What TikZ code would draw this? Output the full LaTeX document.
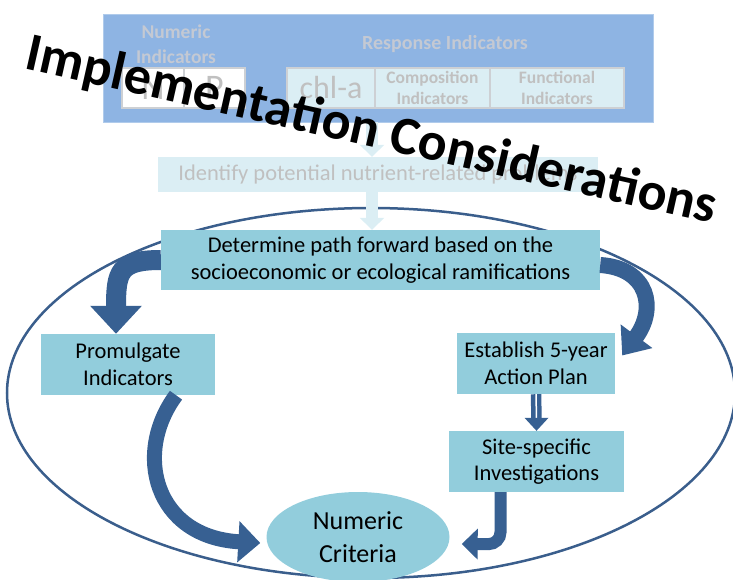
\documentclass[tikz,border=0pt]{standalone}
\usepackage{fontspec}
\setmainfont{Carlito}
\usetikzlibrary{arrows.meta,calc,shapes.geometric}
\definecolor{topblue}{RGB}{142,180,227}
\definecolor{fadefill}{RGB}{219,238,244}
\definecolor{fadeborder}{RGB}{205,208,212}
\definecolor{fadetext}{RGB}{192,192,192}
\definecolor{bluetext}{RGB}{196,201,211}
\definecolor{boxfill}{RGB}{146,205,220}
\definecolor{arrowblue}{RGB}{55,96,146}
\definecolor{ringblue}{RGB}{58,94,140}
\begin{document}
\begin{tikzpicture}[x=1pt,y=-1pt,
  mainbox/.style={fill=boxfill, inner sep=0pt, align=center, font=\fontsize{22.5}{26.5}\selectfont},
  fadebox/.style={fill=fadefill, draw=fadeborder, line width=1.2pt, inner sep=0pt, align=center, text=fadetext},
  bigarrow/.style={draw=arrowblue, line cap=butt},
  fadearrow/.style={draw=fadefill, line width=12pt, -{Triangle[width=24pt,length=12pt]}}
]
\useasboundingbox (0,0) rectangle (733,579);

% big ring
\node[draw=ringblue, line width=2.5pt, ellipse, minimum width=728pt, minimum height=370pt, inner sep=0pt] (ring) at (371,393) {};

% faded top part
\node[fill=topblue, draw=topblue!70!white, line width=0.8pt, minimum width=550pt, minimum height=108pt, inner sep=0pt] (top) at (378,68) {};
\node[text=bluetext, align=center, font=\fontsize{19.5}{25}\selectfont\bfseries] (numind) at (176,44) {Numeric\\Indicators};
\node[text=bluetext, font=\fontsize{20}{22}\selectfont\bfseries] (respind) at (445,44) {Response Indicators};
\node[fill=white, draw=fadeborder, line width=1.2pt, minimum width=62pt, minimum height=40pt, inner sep=0pt, text=fadetext, font=\fontsize{36}{36}\selectfont] (nbox) at (153,88) {N};
\node[fill=white, draw=fadeborder, line width=1.2pt, minimum width=61pt, minimum height=40pt, inner sep=0pt, text=fadetext, font=\fontsize{36}{36}\selectfont] (pbox) at (214.5,88) {P};
\node[fadebox, minimum width=88pt, minimum height=40pt, font=\fontsize{32}{32}\selectfont] (chla) at (331,88) {chl-a};
\node[fadebox, minimum width=115pt, minimum height=40pt, font=\fontsize{17.5}{21}\selectfont\bfseries] (comp) at (432.5,88) {Composition\\Indicators};
\node[fadebox, minimum width=134pt, minimum height=40pt, font=\fontsize{17.5}{21}\selectfont\bfseries] (func) at (557,88) {Functional\\Indicators};

\node[fill=fadefill, minimum width=440pt, minimum height=35pt, inner sep=0pt, text=fadetext, font=\fontsize{22.5}{24}\selectfont] (ident) at (378,174.5) {Identify potential nutrient-related problems};

% main boxes
\node[mainbox, minimum width=439pt, minimum height=60pt] (det) at (380.5,260) {Determine path forward based on the\\socioeconomic or ecological ramifications};
\node[mainbox, minimum width=174pt, minimum height=61pt] (prom) at (128,364.5) {Promulgate\\Indicators};
\node[mainbox, minimum width=158pt, minimum height=61pt] (est) at (536,363.5) {Establish 5-year\\Action Plan};
\node[mainbox, minimum width=175pt, minimum height=61pt] (site) at (536.5,461.5) {Site-specific\\Investigations};
\node[fill=boxfill, ellipse, minimum width=183pt, minimum height=90pt, inner sep=0pt, align=center, font=\fontsize{26}{33}\selectfont] (nc) at (358,537) {Numeric\\Criteria};

% faded arrows
\draw[fadearrow] ($(top.south)+(-6,0)$) -- ($(ident.north)+(-6,0)$);
\draw[fadearrow] ($(ident.south)+(-6,0)$) -- ($(det.north)+(-8.5,0)$);

% connectors
\draw[bigarrow, line width=20pt, -{Triangle[width=50pt,length=28pt]}]
  (det.west) .. controls ($(det.west)+(-42,0)$) and ($(prom.north)+(-12,-62)$) .. ($(prom.north)+(-12,0)$);
\draw[bigarrow, line width=16pt, -{Triangle[width=38pt,length=24pt]}]
  ($(det.east)+(0,5)$) .. controls ($(det.east)+(48,8)$) and ($(est.east)+(42,-55)$) .. ($(est.east)+(7,-8)$);
\draw[bigarrow, line width=15pt, -{Triangle[width=40pt,length=22pt]}]
  ($(prom.south)+(48,0)$) .. controls ($(prom.south)+(5,58)$) and ($(nc.west)+(-112,0)$) .. ($(nc.west)+(-6,6)$);
\draw[draw=arrowblue, line width=4.5pt, double=white, double distance=1.5pt]
  (est.south) -- ($(site.north)+(0,-12)$);
\coordinate (hl) at ($(site.north)+(-12,-13)$);
\coordinate (hr) at ($(site.north)+(12,-13)$);
\fill[arrowblue] (hl) -- (hr) -- (site.north) -- cycle;
\draw[bigarrow, line width=12pt, rounded corners=12pt, -{Triangle[width=30pt,length=16pt]}]
  ($(site.south)+(-36,0)$) -- ($(site.south)+(-36,52)$) -- ($(nc.east)+(12,7)$);

% title
\node[rotate=-12.7, anchor=base, font=\fontsize{54}{54}\selectfont\bfseries, inner sep=0pt] (title) at (368,146) {Implementation Considerations};
\end{tikzpicture}
\end{document}
